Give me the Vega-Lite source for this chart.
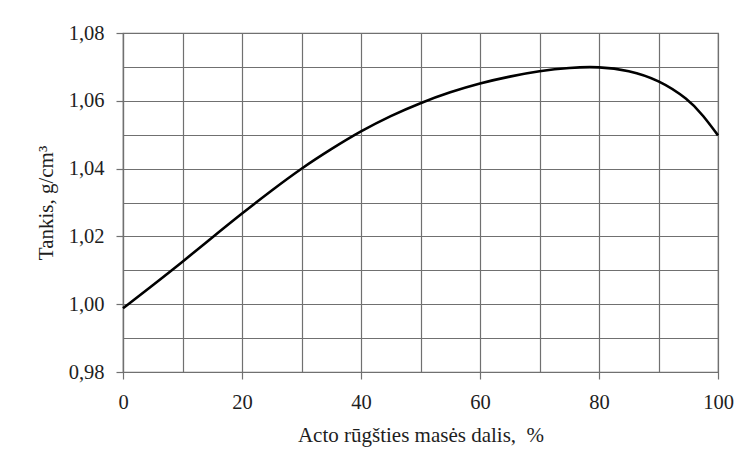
{
  "$schema": "https://vega.github.io/schema/vega-lite/v6.json",
  "autosize": {"type": "none"},
  "padding": {"left": 123, "top": 33, "right": 21, "bottom": 94},
  "width": 595,
  "height": 339,
  "background": "white",
  "data": {
    "values": [
      {"x": 0, "y": 0.9988},
      {"x": 5, "y": 1.0056},
      {"x": 10, "y": 1.0125},
      {"x": 15, "y": 1.0197},
      {"x": 20, "y": 1.0268},
      {"x": 25, "y": 1.0336},
      {"x": 30, "y": 1.0401},
      {"x": 35, "y": 1.0458},
      {"x": 40, "y": 1.0511},
      {"x": 45, "y": 1.0556},
      {"x": 50, "y": 1.0594},
      {"x": 55, "y": 1.0626},
      {"x": 60, "y": 1.0652},
      {"x": 65, "y": 1.0672},
      {"x": 70, "y": 1.0688},
      {"x": 75, "y": 1.0698},
      {"x": 80, "y": 1.0701},
      {"x": 85, "y": 1.0690},
      {"x": 90, "y": 1.0662},
      {"x": 95, "y": 1.0605},
      {"x": 97.5, "y": 1.0557},
      {"x": 100, "y": 1.0498}
    ]
  },
  "mark": {"type": "line", "color": "black", "strokeWidth": 2.6, "interpolate": "basis"},
  "encoding": {
    "x": {
      "field": "x",
      "type": "quantitative",
      "scale": {"domain": [0, 100], "nice": false, "zero": false},
      "axis": {
        "title": "Acto rūgšties masės dalis,\u00a0 %",
        "values": [0, 10, 20, 30, 40, 50, 60, 70, 80, 90, 100],
        "labelExpr": "datum.value % 20 === 0 ? datum.label : ''",
        "tickOpacity": {"condition": {"test": "datum.value % 20 === 0", "value": 1}, "value": 0},
        "tickSize": 7,
        "labelPadding": 13,
        "titlePadding": 12,
        "labelFlush": false
      }
    },
    "y": {
      "field": "y",
      "type": "quantitative",
      "scale": {"domain": [0.98, 1.08], "nice": false, "zero": false},
      "axis": {
        "title": "Tankis, g/cm³",
        "values": [0.98, 0.99, 1.0, 1.01, 1.02, 1.03, 1.04, 1.05, 1.06, 1.07, 1.08],
        "labelExpr": "round(datum.value * 100) % 2 === 0 ? replace(format(datum.value, '.2f'), '.', ',') : ''",
        "tickOpacity": {"condition": {"test": "round(datum.value * 100) % 2 === 0", "value": 1}, "value": 0},
        "tickSize": 7,
        "labelPadding": 12,
        "titlePadding": 12
      }
    }
  },
  "config": {
    "view": {"stroke": "#707070", "strokeWidth": 1.2},
    "axis": {
      "grid": true,
      "gridColor": "#707070",
      "gridWidth": 1.2,
      "gridOpacity": 1,
      "domainColor": "#707070",
      "domainWidth": 1.2,
      "tickColor": "#707070",
      "tickWidth": 1.2,
      "labelFont": "Liberation Serif",
      "labelFontSize": 20.5,
      "labelColor": "#1e1e1e",
      "titleFont": "Liberation Serif",
      "titleFontSize": 21,
      "titleFontWeight": "normal",
      "titleColor": "#1e1e1e"
    }
  }
}
